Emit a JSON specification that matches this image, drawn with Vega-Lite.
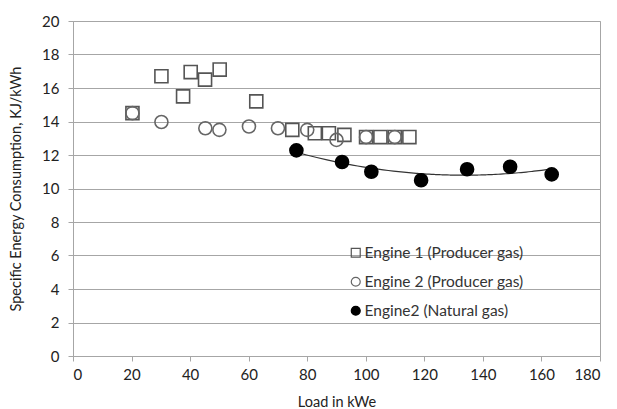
{
  "$schema": "https://vega.github.io/schema/vega-lite/v6.json",
  "width": 527,
  "height": 335,
  "autosize": {"type": "none"},
  "padding": {"left": 73, "top": 21, "right": 17, "bottom": 53},
  "background": "white",
  "config": {
    "font": "Lato",
    "view": {"stroke": "#a6a6a6", "strokeWidth": 1},
    "axis": {
      "labelFont": "Lato", "labelFontSize": 15, "labelColor": "#222", "labelOverlap": false,
      "titleFont": "Lato", "titleFontSize": 14.5, "titleFontWeight": "normal", "titleColor": "#222",
      "domainColor": "#a6a6a6", "tickColor": "#a6a6a6", "tickSize": 5,
      "gridColor": "#a6a6a6", "gridWidth": 1
    }
  },
  "data": {
    "values": [
      {"series": "Engine 1 (Producer gas)", "load": 20.3, "sec": 14.5},
      {"series": "Engine 1 (Producer gas)", "load": 30.2, "sec": 16.7},
      {"series": "Engine 1 (Producer gas)", "load": 37.6, "sec": 15.5},
      {"series": "Engine 1 (Producer gas)", "load": 40.2, "sec": 16.95},
      {"series": "Engine 1 (Producer gas)", "load": 45.1, "sec": 16.5},
      {"series": "Engine 1 (Producer gas)", "load": 50.1, "sec": 17.1},
      {"series": "Engine 1 (Producer gas)", "load": 62.6, "sec": 15.2},
      {"series": "Engine 1 (Producer gas)", "load": 74.9, "sec": 13.5},
      {"series": "Engine 1 (Producer gas)", "load": 82.6, "sec": 13.3},
      {"series": "Engine 1 (Producer gas)", "load": 87.4, "sec": 13.3},
      {"series": "Engine 1 (Producer gas)", "load": 92.7, "sec": 13.2},
      {"series": "Engine 1 (Producer gas)", "load": 100.1, "sec": 13.07},
      {"series": "Engine 1 (Producer gas)", "load": 105.0, "sec": 13.07},
      {"series": "Engine 1 (Producer gas)", "load": 109.9, "sec": 13.07},
      {"series": "Engine 1 (Producer gas)", "load": 114.9, "sec": 13.07},
      {"series": "Engine 2 (Producer gas)", "load": 20.3, "sec": 14.5},
      {"series": "Engine 2 (Producer gas)", "load": 30.2, "sec": 13.97},
      {"series": "Engine 2 (Producer gas)", "load": 45.2, "sec": 13.6},
      {"series": "Engine 2 (Producer gas)", "load": 50.0, "sec": 13.5},
      {"series": "Engine 2 (Producer gas)", "load": 60.1, "sec": 13.7},
      {"series": "Engine 2 (Producer gas)", "load": 70.0, "sec": 13.6},
      {"series": "Engine 2 (Producer gas)", "load": 80.0, "sec": 13.5},
      {"series": "Engine 2 (Producer gas)", "load": 90.0, "sec": 12.9},
      {"series": "Engine 2 (Producer gas)", "load": 100.1, "sec": 13.07},
      {"series": "Engine 2 (Producer gas)", "load": 109.9, "sec": 13.07},
      {"series": "Engine2 (Natural gas)", "load": 76.3, "sec": 12.28},
      {"series": "Engine2 (Natural gas)", "load": 91.9, "sec": 11.58},
      {"series": "Engine2 (Natural gas)", "load": 101.9, "sec": 11.0},
      {"series": "Engine2 (Natural gas)", "load": 118.9, "sec": 10.49},
      {"series": "Engine2 (Natural gas)", "load": 134.6, "sec": 11.15},
      {"series": "Engine2 (Natural gas)", "load": 149.3, "sec": 11.3},
      {"series": "Engine2 (Natural gas)", "load": 163.5, "sec": 10.84}
    ]
  },
  "encoding": {
    "x": {
      "field": "load", "type": "quantitative", "title": "Load in kWe",
      "scale": {"domain": [0, 180], "nice": false},
      "axis": {"values": [0, 20, 40, 60, 80, 100, 120, 140, 160, 180], "grid": false, "titlePadding": 13, "labelPadding": 6}
    },
    "y": {
      "field": "sec", "type": "quantitative", "title": "Specific Energy Consumption, KJ/kWh",
      "scale": {"domain": [0, 20], "nice": false},
      "axis": {"values": [0, 2, 4, 6, 8, 10, 12, 14, 16, 18, 20], "titlePadding": 18, "labelPadding": 9}
    }
  },
  "layer": [
    {
      "transform": [
        {"filter": "datum.series === 'Engine2 (Natural gas)'"},
        {"regression": "sec", "on": "load", "method": "poly", "order": 2, "extent": [76.3, 163.5]}
      ],
      "mark": {"type": "line", "color": "#333", "strokeWidth": 1.2, "interpolate": "monotone"},
      "encoding": {}
    },
    {
      "mark": {"type": "point", "strokeWidth": 1.6, "opacity": 1},
      "encoding": {
        "shape": {
          "field": "series", "type": "nominal", "title": null,
          "scale": {"domain": ["Engine 1 (Producer gas)", "Engine 2 (Producer gas)", "Engine2 (Natural gas)"], "range": ["square", "circle", "circle"]}
        },
        "fill": {
          "field": "series", "type": "nominal", "title": null,
          "scale": {"domain": ["Engine 1 (Producer gas)", "Engine 2 (Producer gas)", "Engine2 (Natural gas)"], "range": ["transparent", "transparent", "#000000"]}
        },
        "stroke": {
          "field": "series", "type": "nominal", "title": null,
          "scale": {"domain": ["Engine 1 (Producer gas)", "Engine 2 (Producer gas)", "Engine2 (Natural gas)"], "range": ["#555555", "#666666", "#000000"]},
          "legend": {
            "orient": "none", "legendX": 275, "legendY": 224,
            "labelFont": "Lato", "labelFontSize": 15.5, "labelColor": "#333",
            "symbolSize": 80, "symbolStrokeWidth": 1.2, "rowPadding": 12, "labelOffset": 1
          }
        },
        "size": {"value": 170}
      }
    }
  ]
}
